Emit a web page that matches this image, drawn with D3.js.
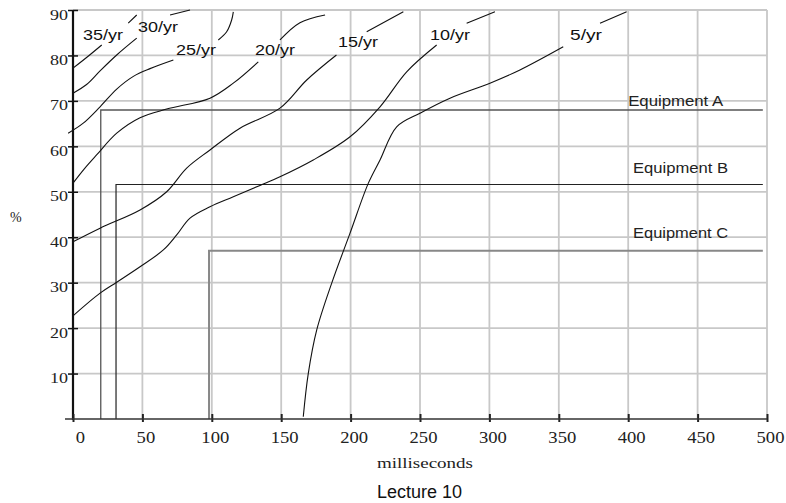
<!DOCTYPE html>
<html>
<head>
<meta charset="utf-8">
<script src="https://cdn.jsdelivr.net/npm/d3@7"></script>
<style>
  body { margin: 0; background: #fff; }
  svg { display: block; }
</style>
</head>
<body>
<div id="chart"></div>
<script>
// values: x = milliseconds, y = %
var xTicks = [0, 50, 100, 150, 200, 250, 300, 350, 400, 450, 500];
var yTicks = [10, 20, 30, 40, 50, 60, 70, 80, 90];

var curveNames = ['35/yr', '30/yr', '25/yr', '20/yr', '15/yr', '10/yr', '5/yr'];
// null = where the line is broken for its label
var curve35 = [[0, 77.2], [10, 79.6], [20.7, 82.3], null, [39.8, 87.1], [45.9, 88.9]];
var curve30 = [[0, 71.7], [9.8, 73.6], [19.5, 76.6], [31.5, 80.1], [45.9, 83.8], null, [69.9, 88.9], [84.3, 90]];
var curve25 = [[-3.5, 62.9], [7.4, 65.1], [19.5, 68.7], [31.5, 72.6], [43.5, 75.4], [55.5, 77.1], [72.3, 79.0], null,
    [104.7, 83.4], [110.7, 85.2], [114.3, 87.8], [115.5, 89.6]];
var curve20 = [[0, 51.9], [8, 55], [17, 58.1], [31.5, 62.9], [48.3, 66.3], [67.5, 68.2], [98.7, 70.6], [115.5, 73.9],
    [133.5, 78.6], null, [149.1, 83.4], [163.5, 87.2], [181.6, 88.9]];
var curve15 = [[0, 39.0], [19.5, 42.0], [48.3, 46.0], [67.5, 50.0], [81.9, 55.2], [98.7, 59.2], [120.3, 64.0],
    [149.1, 68.4], [168.4, 74.6], [189.8, 80.1], null, [211.6, 85.2], [238, 89.6]];
var curve10 = [[0, 22.7], [19.5, 27.7], [31.5, 30.1], [48.3, 33.5], [65.1, 37.2], [74.7, 40.5], [84.3, 44.2],
    [98.7, 46.7], [115.5, 48.9], [134.7, 51.4], [149.1, 53.3], [173.1, 57.0], [199.6, 62.1], [221.2, 68.7],
    [240.4, 76.4], [262, 82.3], null, [283.6, 87.1], [304, 89.6]];
var curve5 = [[165.9, 0.5], [169.5, 10], [175.6, 19.6], [186.4, 29.9], [199.6, 40.9], [212.8, 51.9], [221.2, 57.0],
    [233.2, 64.3], [250, 67.3], [271.6, 70.6], [300.4, 73.9], [322, 76.8], [353.2, 81.9], null,
    [379.7, 87.1], [398.9, 89.6]];
var curves = [curve35, curve30, curve25, curve20, curve15, curve10, curve5];
// label anchors (left, baseline) in chart units
var curveLabelAt = [[7.2, 83.4], [46.8, 85.2], [74.2, 80.1], [131.1, 80.1], [190.9, 81.9], [257.2, 83.4], [358.1, 83.4]];

var equipNames = ['Equipment A', 'Equipment B', 'Equipment C'];
var equipDelay = [20, 31, 98];
var equipPercent = [68, 51.6, 37];
var equipLabelAt = [[400, 68.9], [403.5, 54.1], [403.5, 39.8]];

function drawChart() {
    var width = 786, height = 503;
    var svg = d3.select('#chart').append('svg')
        .attr('width', width)
        .attr('height', height);

    var x = d3.scaleLinear().domain([0, 500]).range([73, 767]);
    var y = d3.scaleLinear().domain([0, 90]).range([419, 10]);

    // grid
    var grid = svg.append('g').attr('stroke', '#c8c8c8').attr('stroke-width', 1.8);
    grid.selectAll('line.v').data(xTicks.slice(1)).enter().append('line')
        .attr('x1', function(d) { return x(d); }).attr('x2', function(d) { return x(d); })
        .attr('y1', y(0)).attr('y2', y(90));
    grid.selectAll('line.h').data(yTicks).enter().append('line')
        .attr('x1', x(0)).attr('x2', x(500))
        .attr('y1', function(d) { return y(d); }).attr('y2', function(d) { return y(d); });

    // equipment steps
    var equipColors = ['#555', '#222', '#888'];
    var equipWidths = [1.3, 1.2, 2];
    equipNames.forEach(function(name, i) {
        svg.append('path')
            .attr('d', 'M' + x(equipDelay[i]) + ',' + y(0) + 'V' + y(equipPercent[i]) + 'H' + x(497))
            .attr('fill', 'none')
            .attr('stroke', equipColors[i])
            .attr('stroke-width', equipWidths[i]);
        svg.append('text')
            .attr('x', x(equipLabelAt[i][0]))
            .attr('y', y(equipLabelAt[i][1]))
            .attr('font-family', 'Liberation Sans, Arial, sans-serif')
            .attr('font-size', 14.5)
            .attr('fill', '#222')
            .attr('textLength', 95)
            .attr('lengthAdjust', 'spacingAndGlyphs')
            .text(name);
    });

    // curves
    var line = d3.line()
        .defined(function(d) { return d; })
        .x(function(d) { return x(d[0]); })
        .y(function(d) { return y(d[1]); })
        .curve(d3.curveCatmullRom.alpha(0.5));

    svg.selectAll('path.curve').data(curves).enter().append('path')
        .attr('class', 'curve')
        .attr('d', line)
        .attr('fill', 'none')
        .attr('stroke', '#111')
        .attr('stroke-width', 1.1);

    svg.selectAll('text.curve-label').data(curveNames).enter().append('text')
        .attr('class', 'curve-label')
        .attr('x', function(d, i) { return x(curveLabelAt[i][0]); })
        .attr('y', function(d, i) { return y(curveLabelAt[i][1]); })
        .attr('font-family', 'Liberation Sans, Arial, sans-serif')
        .attr('font-size', 15)
        .attr('fill', '#111')
        .attr('textLength', function(d) { return d.length * 8; })
        .attr('lengthAdjust', 'spacingAndGlyphs')
        .text(function(d) { return d; });

    // y axis
    var yAxis = svg.append('g')
        .attr('transform', 'translate(' + x(0) + ',0)')
        .call(d3.axisLeft(y).tickValues(yTicks).tickSize(5).tickPadding(0).tickFormat(d3.format('d')));
    yAxis.select('.domain').remove();
    yAxis.selectAll('.tick line').attr('x2', 5).attr('x1', -5).attr('stroke', '#111').attr('stroke-width', 1.5);
    yAxis.selectAll('.tick text')
        .attr('x', -5)
        .attr('dy', '0.6em')
        .attr('font-family', 'Liberation Serif, Times New Roman, serif')
        .attr('font-size', 15)
        .attr('fill', '#222')
        .attr('textLength', 18)
        .attr('lengthAdjust', 'spacingAndGlyphs');
    svg.append('line')
        .attr('x1', x(0)).attr('x2', x(0)).attr('y1', y(90)).attr('y2', y(0) + 1)
        .attr('stroke', '#111').attr('stroke-width', 2.2);

    // x axis
    var xAxis = svg.append('g')
        .attr('transform', 'translate(0,' + y(0) + ')')
        .call(d3.axisBottom(x).tickValues(xTicks).tickSize(3).tickPadding(9));
    xAxis.select('.domain').remove();
    xAxis.selectAll('.tick line').attr('y1', -5).attr('y2', 3).attr('stroke', '#222').attr('stroke-width', 2);
    xAxis.selectAll('.tick text')
        .attr('dx', function(d) { return d === 0 ? 7 : 3; })
        .attr('font-family', 'Liberation Serif, Times New Roman, serif')
        .attr('font-size', 16.5)
        .attr('fill', '#222')
        .attr('textLength', function(d) { return String(d).length * 9.3; })
        .attr('lengthAdjust', 'spacingAndGlyphs');
    svg.append('line')
        .attr('x1', 65).attr('x2', x(500)).attr('y1', y(0)).attr('y2', y(0))
        .attr('stroke', '#333').attr('stroke-width', 1.5);

    // titles
    svg.append('text')
        .attr('x', 10).attr('y', 222)
        .attr('font-family', 'Liberation Serif, Times New Roman, serif')
        .attr('font-size', 14)
        .attr('fill', '#222')
        .text('%');
    svg.append('text')
        .attr('x', 377).attr('y', 468)
        .attr('font-family', 'Liberation Serif, Times New Roman, serif')
        .attr('font-size', 14.5)
        .attr('fill', '#222')
        .attr('textLength', 96)
        .attr('lengthAdjust', 'spacingAndGlyphs')
        .text('milliseconds');
    svg.append('text')
        .attr('x', 377).attr('y', 498)
        .attr('font-family', 'Liberation Sans, Arial, sans-serif')
        .attr('font-size', 18)
        .attr('fill', '#111')
        .text('Lecture 10');
}

document.addEventListener('DOMContentLoaded', drawChart);
</script>
</body>
</html>
